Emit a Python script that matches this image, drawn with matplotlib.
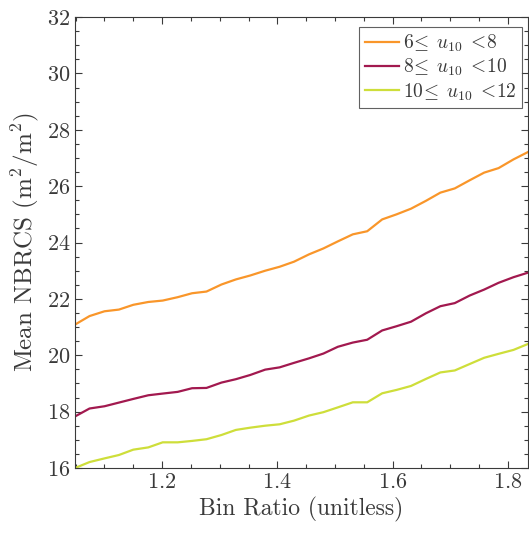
import numpy as np
import matplotlib
matplotlib.use('Agg')
import matplotlib.pyplot as plt
from matplotlib.ticker import MultipleLocator

# ─── DONNÉES ──────────────────────────────────────────────────────────────────
bin_ratio = [1.049, 1.074, 1.100, 1.125, 1.150, 1.176, 1.201, 1.227,
             1.252, 1.277, 1.303, 1.328, 1.353, 1.379, 1.404, 1.429,
             1.455, 1.480, 1.505, 1.531, 1.556, 1.582, 1.607, 1.632,
             1.658, 1.683, 1.708, 1.734, 1.759, 1.784, 1.810, 1.835]

nbrcs_6_8 = [21.09, 21.39, 21.56, 21.62, 21.79, 21.89, 21.94, 22.06,
             22.20, 22.26, 22.51, 22.69, 22.83, 23.00, 23.14, 23.32,
             23.58, 23.79, 24.04, 24.29, 24.40, 24.82, 25.00, 25.20,
             25.48, 25.77, 25.92, 26.21, 26.48, 26.64, 26.95, 27.21]

nbrcs_8_10 = [17.83, 18.11, 18.19, 18.32, 18.45, 18.58, 18.64, 18.70,
              18.83, 18.84, 19.03, 19.15, 19.30, 19.49, 19.57, 19.73,
              19.89, 20.06, 20.30, 20.45, 20.55, 20.88, 21.03, 21.19,
              21.49, 21.74, 21.85, 22.12, 22.33, 22.57, 22.77, 22.93]

nbrcs_10_12 = [16.00, 16.21, 16.34, 16.46, 16.65, 16.73, 16.91, 16.91,
               16.96, 17.02, 17.17, 17.35, 17.43, 17.50, 17.55, 17.68,
               17.86, 17.98, 18.15, 18.33, 18.33, 18.65, 18.77, 18.91,
               19.16, 19.39, 19.46, 19.69, 19.91, 20.05, 20.19, 20.40]

labels = [r'$\mathrm{6}\!\leq\; u_{10}\; <\!\mathrm{8}$',
          r'$\mathrm{8}\!\leq\; u_{10}\; <\!\mathrm{10}$',
          r'$\mathrm{10}\!\leq\; u_{10}\; <\!\mathrm{12}$']
colors = ['#F9962A', '#A2194F', '#CEDE3A']

# ─── STYLE ────────────────────────────────────────────────────────────────────
plt.rcParams['font.family'] = 'serif'
plt.rcParams['font.serif'] = ['cmr10']
plt.rcParams['mathtext.fontset'] = 'cm'
plt.rcParams['axes.formatter.use_mathtext'] = True
gris = '#3a3a3a'

fig = plt.figure(figsize=(5.29, 5.33), dpi=100)
ax = fig.add_axes([0.142, 0.122, 0.856, 0.846])

for serie, lab, col in zip([nbrcs_6_8, nbrcs_8_10, nbrcs_10_12], labels, colors):
    ax.plot(bin_ratio, serie, color=col, linewidth=1.6, label=lab)

ax.set_xlim(bin_ratio[0], bin_ratio[-1])
ax.set_ylim(16, 32)
ax.xaxis.set_major_locator(MultipleLocator(0.2))
ax.xaxis.set_minor_locator(MultipleLocator(0.05))
ax.yaxis.set_major_locator(MultipleLocator(2))
ax.yaxis.set_minor_locator(MultipleLocator(0.5))
ax.tick_params(which='both', direction='in', top=True, right=True,
               colors=gris, labelsize=16, width=0.8)
ax.tick_params(which='major', length=5)
ax.tick_params(which='minor', length=3)
for s in ax.spines.values():
    s.set_color(gris)
    s.set_linewidth(0.8)

ax.set_xlabel('Bin Ratio (unitless)', fontsize=17, color=gris, labelpad=3)
ax.set_ylabel(r'Mean NBRCS (m$^2$/m$^2$)', fontsize=18, color=gris, labelpad=4)

leg = ax.legend(loc='upper right', fontsize=14, frameon=True, fancybox=False,
                handlelength=1.75, handletextpad=0.2, borderpad=0.3,
                labelspacing=0.15, borderaxespad=0,
                bbox_to_anchor=(522 / 529, 1 - 27 / 533),
                bbox_transform=fig.transFigure)
leg.get_frame().set_edgecolor(gris)
leg.get_frame().set_linewidth(0.8)
for t in leg.get_texts():
    t.set_color(gris)

plt.savefig('out.png', dpi=100)
plt.close()
